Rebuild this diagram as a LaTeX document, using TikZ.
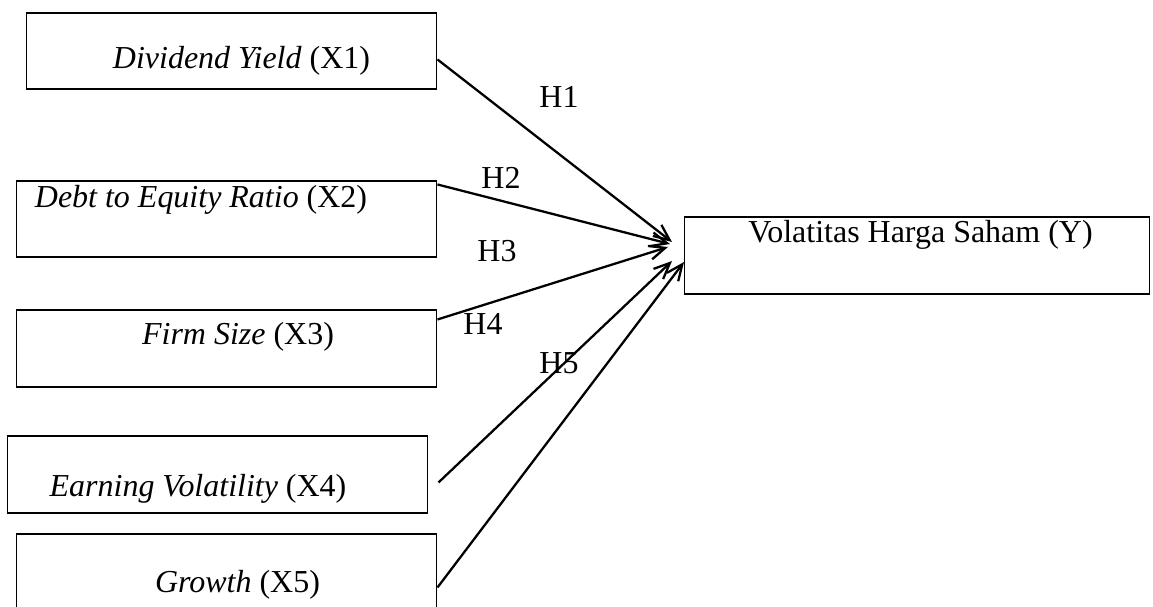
\documentclass[tikz,border=0pt]{standalone}
\usepackage{fontspec}
\setmainfont{Liberation Serif}
\usetikzlibrary{arrows.meta}

\begin{document}
\begin{tikzpicture}[x=0.02cm, y=-0.02cm,
		box/.style={draw, line width=0.6pt, rectangle, inner sep=0pt},
		lbl/.style={anchor=base, inner sep=0pt, font=\fontsize{18.2}{22}\selectfont},
		arr/.style={line width=1.3pt, -{Straight Barb[length=3.2mm, width=2.8mm, line width=1.3pt]}}]
			%%%%% START %%%%%
			
			\useasboundingbox (0, 0) rectangle (1153, 607);
			
			\node[box, minimum width=8.22cm, minimum height=1.52cm] (x1) at (231.5, 51) {};
			\node[box, minimum width=8.42cm, minimum height=1.52cm] (x2) at (226.5, 219) {};
			\node[box, minimum width=8.42cm, minimum height=1.54cm] (x3) at (226.5, 348.5) {};
			\node[box, minimum width=8.42cm, minimum height=1.54cm] (x4) at (217.5, 474.5) {};
			\node[box, minimum width=8.42cm, minimum height=1.56cm] (x5) at (226.5, 573) {};
			\node[box, minimum width=9.32cm, minimum height=1.54cm] (y) at (917, 255.5) {};
			
			\node[lbl] (tx1) at (241.5, 69) {\textit{Dividend Yield} (X1)};
			\node[lbl] (tx2) at (201, 208) {\textit{Debt to Equity Ratio} (X2)};
			\node[lbl] (tx3) at (238, 345) {\textit{Firm Size} (X3)};
			\node[lbl] (tx4) at (198, 497) {\textit{Earning Volatility} (X4)};
			\node[lbl] (tx5) at (237.5, 593) {\textit{Growth} (X5)};
			\node[lbl] (ty) at (920.5, 243) {Volatitas Harga Saham (Y)};
			
			\coordinate (t1) at (672, 242);
			\coordinate (t2) at (670, 244);
			\coordinate (t3) at (668, 247);
			\coordinate (t4) at (672, 261);
			\coordinate (t5) at (684, 262);
			
			\draw[arr] ([yshift=-0.94cm]x1.north east) -- (t1);
			\draw[arr] ([yshift=-0.08cm]x2.north east) -- (t2);
			\draw[arr] ([yshift=-0.2cm]x3.north east) -- (t3);
			\draw[arr] ([xshift=0.2cm, yshift=-0.94cm]x4.north east) -- (t4);
			\draw[arr] ([yshift=-1.08cm]x5.north east) -- (t5);
			
			\node[lbl] (h1) at (559, 108) {H1};
			\node[lbl] (h2) at (501, 189) {H2};
			\node[lbl] (h3) at (497, 262) {H3};
			\node[lbl] (h4) at (483, 335) {H4};
			\node[lbl] (h5) at (559, 374) {H5};
			
			%%%%% END %%%%%
\end{tikzpicture}
\end{document}
